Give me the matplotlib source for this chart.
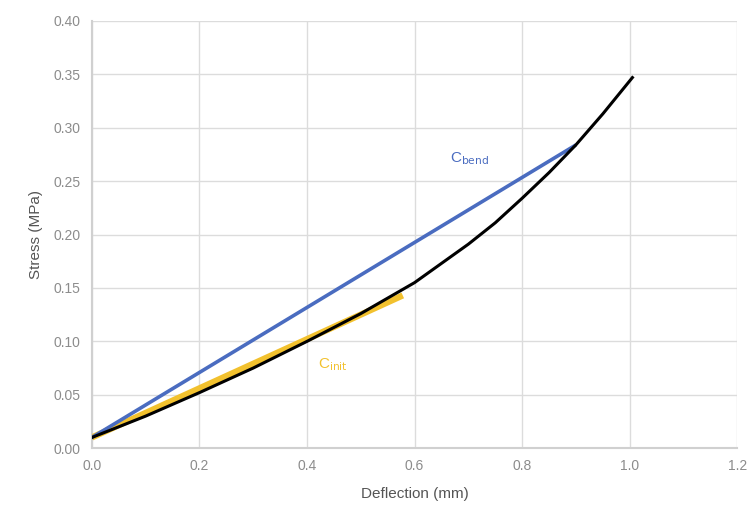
"""Stress vs deflection with two secant stiffness lines."""

import matplotlib

matplotlib.use("Agg")

import matplotlib.pyplot as plt

plt.rcParams["font.family"] = ["Liberation Sans", "DejaVu Sans"]

# measured curve
deflection = [0.0, 0.1, 0.2, 0.3, 0.4, 0.5, 0.6, 0.7, 0.75, 0.8, 0.85, 0.9, 0.95, 1.005]
stress = [0.010, 0.030, 0.052, 0.075, 0.100, 0.126, 0.155, 0.191, 0.211, 0.234,
          0.258, 0.284, 0.313, 0.347]

# secant lines (start and end points)
bend_x = [0.0, 0.897]
bend_y = [0.010, 0.283]
init_x = [0.0, 0.578]
init_y = [0.010, 0.143]

x_ticks = [0.0, 0.2, 0.4, 0.6, 0.8, 1.0, 1.2]
y_ticks = [0.00, 0.05, 0.10, 0.15, 0.20, 0.25, 0.30, 0.35, 0.40]

grey = "#8c8c8c"

figure = plt.figure(figsize=(7.47, 5.11), dpi=100)
axis = figure.add_axes([0.123, 0.123, 0.864, 0.836])

axis.plot(init_x, init_y, color="#f2c12e", linewidth=4.5, solid_capstyle="butt", zorder=3)
axis.plot(bend_x, bend_y, color="#4a6cc0", linewidth=2.6, zorder=3)
axis.plot(deflection, stress, color="black", linewidth=2.2, solid_joinstyle="round", zorder=4)

axis.text(0.665, 0.268, r"C$_{\mathrm{bend}}$", color="#4a6cc0", fontsize=11)
axis.text(0.42, 0.075, r"C$_{\mathrm{init}}$", color="#f2c12e", fontsize=11)

axis.set_xlim(0.0, 1.2)
axis.set_ylim(0.0, 0.40)
axis.set_xticks(x_ticks)
axis.set_xticklabels([f"{v:.1f}" for v in x_ticks])
axis.set_yticks(y_ticks)
axis.set_yticklabels([f"{v:.2f}" for v in y_ticks])
axis.grid(True, color="#dcdcdc", linewidth=1.0)
axis.set_axisbelow(True)

for side in ("top", "right"):
    axis.spines[side].set_visible(False)
for side in ("left", "bottom"):
    axis.spines[side].set_color("#d0d0d0")
    axis.spines[side].set_linewidth(1.5)

axis.tick_params(length=0, colors=grey, labelsize=10, pad=8)
axis.set_xlabel("Deflection (mm)", color="#555555", fontsize=11, labelpad=10)
axis.set_ylabel("Stress (MPa)", color="#555555", fontsize=11, labelpad=8)

figure.savefig("out.png", dpi=100)
plt.close(figure)
